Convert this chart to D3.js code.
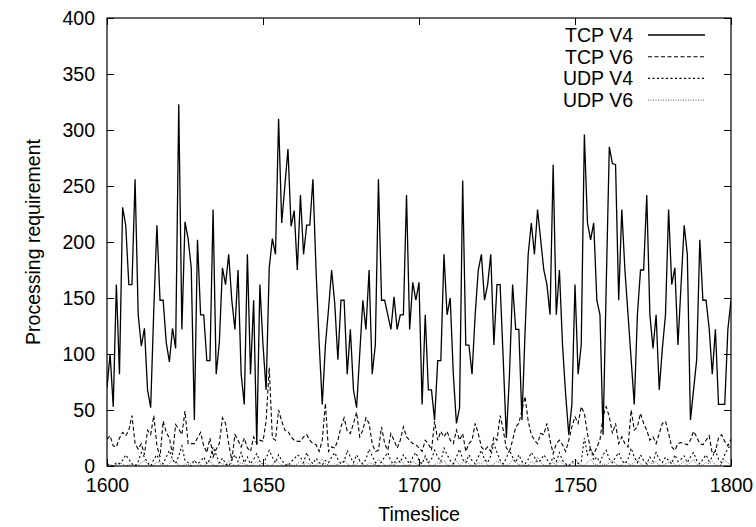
<!DOCTYPE html>
<html><head><meta charset="utf-8">
<script src="https://cdn.jsdelivr.net/npm/d3@7"></script>
<style>body{margin:0;background:#fff}svg{display:block}text{font-family:"Liberation Sans",Arial,sans-serif}</style>
</head><body><svg id="c" width="756" height="527"></svg>
<script>
const startSlice = 1600;
const xTicks = [1600, 1650, 1700, 1750, 1800];
const yTicks = [0, 50, 100, 150, 200, 250, 300, 350, 400];
const seriesNames = ["TCP V4", "TCP V6", "UDP V4", "UDP V6"];
const tcpV4 = [70,100,53,162,82,231,215,162,162,256,
135,107,123,68,52,140,215,148,148,110,
93,123,105,323,122,218,203,177,41,202,
135,135,94,94,229,82,110,177,162,189,
148,122,175,82,55,189,82,148,19,162,
108,68,177,203,189,310,217,250,283,214,
228,175,242,189,215,215,256,175,110,55,
108,140,175,145,95,148,148,82,122,68,
52,100,148,122,175,82,108,256,148,148,
135,122,151,122,135,135,242,122,164,148,
164,55,135,68,68,41,94,94,189,135,
150,82,38,52,255,108,108,82,135,175,
189,148,162,189,108,162,162,95,25,82,
162,122,122,41,120,189,217,189,229,202,
175,162,135,269,135,175,108,64,28,55,
162,82,108,296,217,202,217,148,135,28,
160,285,270,269,148,229,175,135,95,55,
135,175,175,242,135,105,135,68,105,135,
229,162,177,108,162,215,189,41,68,95,
202,148,148,123,82,122,55,55,55,122,
148];
const tcpV6 = [24,27,18,17,25,30,27,32,45,20,
15,20,10,32,28,45,18,8,40,30,
25,10,37,33,28,49,20,20,20,25,
30,18,12,25,8,15,20,43,38,20,
5,28,23,17,25,16,13,26,20,23,
22,40,88,25,23,50,40,32,31,26,
23,22,22,26,28,23,20,19,13,23,
56,13,17,16,23,35,43,31,29,38,
48,26,32,43,38,20,13,14,35,20,
14,29,23,16,23,35,26,23,20,19,
16,13,23,20,14,40,23,31,26,31,
23,20,32,23,29,13,20,23,38,29,
17,14,17,13,26,23,45,32,16,13,
23,35,38,50,62,40,28,23,20,29,
28,38,23,11,20,23,19,13,23,35,
44,38,53,47,29,14,10,17,23,45,
53,44,29,38,20,26,20,17,50,32,
35,47,38,32,23,26,20,29,38,40,
29,17,14,20,21,20,19,23,31,26,
20,19,23,27,11,13,25,28,22,18,
24];
const udpV4 = [2,1,0,3,2,5,10,6,2,0,
4,12,8,3,0,6,10,4,2,8,
14,6,2,9,18,5,3,0,5,2,
4,8,2,6,17,10,3,7,2,0,
5,10,4,12,3,8,2,6,11,4,
2,7,14,8,3,10,5,2,0,4,
6,10,8,3,12,5,2,7,3,1,
5,3,8,12,6,2,4,14,8,3,
10,5,2,6,15,9,3,0,4,8,
12,4,2,7,3,10,6,2,8,12,
5,2,9,3,6,14,8,4,16,10,
5,2,8,15,6,3,10,5,2,8,
14,6,3,9,20,12,5,2,7,14,
8,3,10,4,2,6,12,8,3,5,
10,6,2,8,4,12,5,2,0,3,
6,2,4,25,10,16,5,8,3,10,
14,6,3,8,12,5,2,6,16,8,
3,10,5,2,8,4,12,6,3,8,
5,2,10,4,6,9,3,8,12,5,
2,6,10,4,8,14,6,3,10,16,
18];
const udpV6 = [2,1,0,1,3,2,0,1,2,0,
1,3,5,2,0,1,4,2,1,0,
2,6,3,1,0,2,1,3,5,2,
1,0,2,4,1,0,3,2,1,5,
2,0,1,3,2,1,0,2,4,1,
3,2,0,1,5,3,1,0,2,1,
0,2,4,1,3,2,0,1,3,6,
2,1,0,2,1,3,5,2,0,1,
2,4,1,0,3,2,1,6,3,1,
0,2,1,3,5,2,0,1,4,2,
1,3,7,2,0,1,3,2,5,1,
0,2,4,1,3,6,2,0,1,3,
2,5,1,0,2,4,3,1,0,2,
6,3,1,2,0,1,4,2,8,3,
1,0,2,3,1,5,2,0,1,3,
2,4,1,0,3,6,2,1,0,2,
1,3,5,2,0,1,4,2,1,3,
6,2,0,1,3,2,4,1,0,2,
3,5,1,0,2,4,1,3,6,2,
0,1,3,2,4,1,0,2,5,3,
1];

const svg = d3.select("#c");
const L = 107, R = 731, T = 18, B = 466;
const x = d3.scaleLinear().domain([1600, 1800]).range([L, R]);
const y = d3.scaleLinear().domain([0, 400]).range([B, T]);
const FS = 19.5;

const styles = [
  {data: tcpV4, dash: null, w: 1.3, c: "#000"},
  {data: tcpV6, dash: "4,2.5", w: 1.1, c: "#000"},
  {data: udpV4, dash: "2,2.5", w: 1.1, c: "#000"},
  {data: udpV6, dash: "1,1.5", w: 1, c: "#555"}
];

const line = d3.line().x((d, i) => x(startSlice + i)).y(d => y(d));
svg.append("clipPath").attr("id", "pc").append("rect")
  .attr("x", L).attr("y", T).attr("width", R - L).attr("height", B - T);

const g = svg.append("g").attr("clip-path", "url(#pc)");
styles.slice().reverse().forEach(s => {
  g.append("path").attr("d", line(s.data)).attr("fill", "none")
    .attr("stroke", s.c).attr("stroke-width", s.w)
    .attr("stroke-dasharray", s.dash).attr("stroke-linejoin", "miter");
});

function styleAxis(sel) {
  sel.select(".domain").remove();
  sel.selectAll("line").attr("stroke", "#000").attr("stroke-width", 1);
  sel.selectAll("text").attr("font-size", FS).attr("fill", "#000")
    .attr("font-family", "Liberation Sans, Arial, sans-serif");
}
svg.append("g").attr("transform", `translate(0,${B})`)
  .call(d3.axisBottom(x).tickValues(xTicks).tickFormat(d3.format("d")).tickSize(-7).tickPadding(12))
  .call(styleAxis);
svg.append("g").attr("transform", `translate(0,${T})`)
  .call(d3.axisTop(x).tickValues(xTicks).tickFormat("").tickSize(-7))
  .call(styleAxis);
svg.append("g").attr("transform", `translate(${L},0)`)
  .call(d3.axisLeft(y).tickValues(yTicks).tickSize(-7).tickPadding(12))
  .call(styleAxis);
svg.append("g").attr("transform", `translate(${R},0)`)
  .call(d3.axisRight(y).tickValues(yTicks).tickFormat("").tickSize(-7))
  .call(styleAxis);

svg.append("rect").attr("x", L).attr("y", T).attr("width", R - L).attr("height", B - T)
  .attr("fill", "none").attr("stroke", "#000").attr("stroke-width", 1.2);

svg.append("text").attr("x", (L + R) / 2).attr("y", 521).attr("text-anchor", "middle")
  .attr("font-size", FS).text("Timeslice");
svg.append("text").attr("transform", `translate(40,${(T + B) / 2}) rotate(-90)`)
  .attr("text-anchor", "middle").attr("font-size", FS).text("Processing requirement");

const leg = svg.append("g");
seriesNames.forEach((n, i) => {
  const cy = 35 + i * 21.7;
  leg.append("text").attr("x", 633).attr("y", cy).attr("dy", "0.35em")
    .attr("text-anchor", "end").attr("font-size", FS).text(n);
  leg.append("line").attr("x1", 648).attr("x2", 705).attr("y1", cy).attr("y2", cy)
    .attr("stroke", styles[i].c).attr("stroke-width", styles[i].w)
    .attr("stroke-dasharray", styles[i].dash);
});
</script></body></html>
